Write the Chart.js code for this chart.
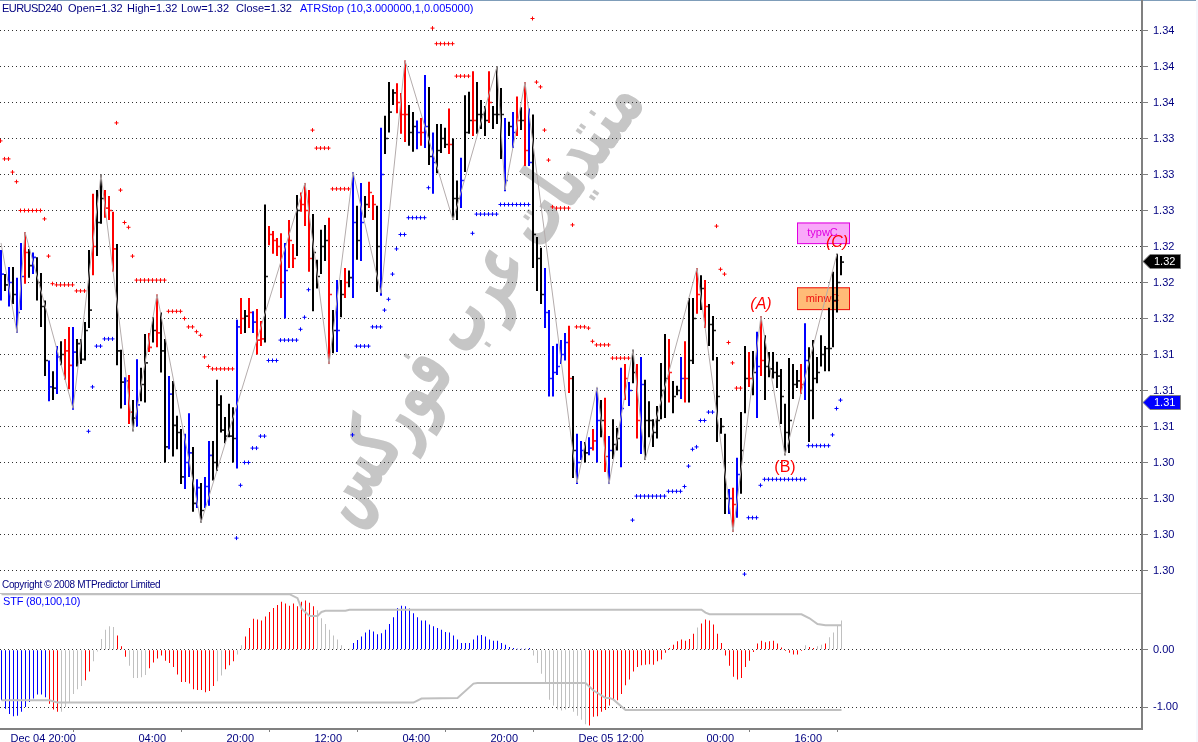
<!DOCTYPE html>
<html>
<head>
<meta charset="utf-8">
<title>EURUSD240</title>
<script src="https://cdn.jsdelivr.net/npm/chart.js@4"></script>
<style>
  html, body { margin: 0; padding: 0; background: #fff; width: 1198px; height: 742px; overflow: hidden; }
  canvas { position: absolute; left: 0; }
  #mainChart { top: 0; }
  #stfChart { top: 593px; }
  .txt { position: absolute; font: 11px "Liberation Sans", sans-serif; white-space: nowrap; line-height: 12px; }
  .navy { color: #000080; }
  .blue { color: #0000ff; }
  #topLine { position: absolute; left: 0; top: 0; width: 1198px; height: 1px; background: #7f9db9; }
  #edgeLine { position: absolute; left: 1196px; top: 0; width: 2px; height: 742px; background: #f5f7fd; }
  #panelLine { position: absolute; left: 0; top: 593px; width: 1142px; height: 1px; background: #c0c0c0; }
  #watermark {
    position: absolute; left: 474px; top: 297px;
    transform: translate(-50%, -50%) rotate(-55deg) scaleX(.58);
    font: bold 84px "DejaVu Sans", sans-serif; color: #c6c6c6; white-space: nowrap; direction: rtl;
  }
</style>
</head>
<body>
<div id="topLine"></div>
<div id="edgeLine"></div>
<div id="watermark">منتديات عرب فوركس</div>
<canvas id="mainChart" width="1198" height="593"></canvas>
<div id="panelLine"></div>
<canvas id="stfChart" width="1198" height="149"></canvas>

<div class="txt navy" style="left:2px;top:2px;letter-spacing:-.55px">EURUSD240</div>
<div class="txt navy" style="left:68px;top:2px">Open=1.32</div>
<div class="txt navy" style="left:127px;top:2px">High=1.32</div>
<div class="txt navy" style="left:181px;top:2px">Low=1.32</div>
<div class="txt navy" style="left:236px;top:2px">Close=1.32</div>
<div class="txt blue" style="left:300px;top:2px">ATRStop (10,3.000000,1,0.005000)</div>
<div class="txt navy" style="left:2px;top:579px;font-size:10px;letter-spacing:-.33px">Copyright © 2008 MTPredictor Limited</div>
<div class="txt blue" style="left:3px;top:595px;letter-spacing:-.2px">STF (80,100,10)</div>

<script>
const barState = ('bkbkbbrkbk' + 'kkbkbkrrbk' + 'kkkrkkrrrk' + 'kbrkbkkrkr' + 'kkbkkkbbkb' +
  'kbbkkkkkkb' + 'rkrbrrkrrr' + 'rbrrkrrrkk' + 'kkrkbkrkbk' + 'bkrrkbkkkr' +
  'rrkkbrbkbk' + 'kkrkkbkkrk' + 'kkrkkkbkbr' + 'krbkkkbbbb' + 'bbrkbbkbrb' +
  'krbkkbrbkr' + 'bkkkkkkrkk' + 'brkkrkrkkk' + 'kkbrbkkrkb' + 'rkkkkkkkkk' + 'rbkkkkkkkkk').split('');

const highs = [
  1.3227,1.3207,1.3213,1.3213,1.3204,1.3233,1.3242,1.3228,1.3225,1.3221,
  1.3208,1.3185,1.3135,1.3126,1.3147,1.3151,1.3153,1.3163,1.3163,1.3153,
  1.3153,1.3167,1.3227,1.3274,1.3277,1.3290,1.3277,1.3272,1.3259,1.3232,
  1.3144,1.3121,1.3123,1.3102,1.3136,1.3129,1.3157,1.3158,1.3171,1.3190,
  1.3175,1.3153,1.3122,1.3118,1.3089,1.3078,1.3074,1.3091,1.3063,1.3036,
  1.3033,1.3038,1.3068,1.3068,1.3119,1.3106,1.3088,1.3099,1.3096,1.3169,
  1.3187,1.3177,1.3187,1.3176,1.3178,1.3168,1.3265,1.3247,1.3243,1.3237,
  1.3241,1.3233,1.3252,1.3232,1.3273,1.3275,1.3283,1.3277,1.3257,1.3219,
  1.3244,1.3248,1.3254,1.3177,1.3202,1.3202,1.3212,1.3210,1.3292,1.3264,
  1.3283,1.3272,1.3284,1.3273,1.3264,1.3329,1.3339,1.3367,1.3361,1.3366,
  1.3358,1.3385,1.3348,1.3342,1.3335,1.3337,1.3373,1.3363,1.3325,1.3332,
  1.3332,1.3329,1.3345,1.3320,1.3285,1.3304,1.3356,1.3359,1.3376,1.3367,
  1.3352,1.3347,1.3376,1.3347,1.3380,1.3362,1.3337,1.3334,1.3342,1.3355,
  1.3346,1.3367,1.3345,1.3340,1.3238,1.3229,1.3212,1.3177,1.3147,1.3149,
  1.3152,1.3158,1.3164,1.3122,1.3074,1.3068,1.3067,1.3071,1.3078,1.3112,
  1.3102,1.3104,1.3072,1.3086,1.3079,1.3129,1.3132,1.3117,1.3144,1.3132,
  1.3138,1.3119,1.3101,1.3086,1.3097,1.3133,1.3157,1.3153,1.3118,1.3114,
  1.3138,1.3151,1.3187,1.3187,1.3212,1.3206,1.3202,1.3182,1.3172,1.3138,
  1.3087,1.3074,1.3028,1.3029,1.3054,1.3092,1.3147,1.3142,1.3143,1.3159,
  1.3172,1.3156,1.3142,1.3142,1.3134,1.3128,1.3099,1.3137,1.3132,1.3127,
  1.3132,1.3166,1.3146,1.3152,1.3138,1.3156,1.3147,1.3179,1.3209,1.3224,1.3222
];
const lows = [
  1.3185,1.3193,1.3180,1.3182,1.3158,1.3177,1.3199,1.3204,1.3207,1.3185,
  1.3163,1.3122,1.3101,1.3102,1.3107,1.3131,1.3119,1.3111,1.3094,1.3130,
  1.3132,1.3135,1.3162,1.3206,1.3222,1.3249,1.3254,1.3252,1.3209,1.3131,
  1.3095,1.3098,1.3082,1.3076,1.3080,1.3101,1.3100,1.3142,1.3150,1.3146,
  1.3125,1.3050,1.3061,1.3055,1.3061,1.3032,1.3028,1.3038,1.3009,1.3012,
  1.3000,1.3012,1.3014,1.3035,1.3043,1.3075,1.3066,1.3071,1.3050,1.3045,
  1.3157,1.3158,1.3162,1.3158,1.3140,1.3147,1.3150,1.3231,1.3224,1.3222,
  1.3187,1.3170,1.3212,1.3212,1.3222,1.3259,1.3247,1.3209,1.3176,1.3195,
  1.3207,1.3218,1.3132,1.3141,1.3142,1.3171,1.3187,1.3196,1.3187,1.3219,
  1.3218,1.3254,1.3262,1.3252,1.3192,1.3189,1.3307,1.3325,1.3348,1.3341,
  1.3324,1.3317,1.3314,1.3309,1.3311,1.3314,1.3312,1.3298,1.3274,1.3291,
  1.3308,1.3312,1.3307,1.3252,1.3252,1.3262,1.3292,1.3324,1.3322,1.3324,
  1.3328,1.3322,1.3333,1.3328,1.3332,1.3303,1.3276,1.3322,1.3312,1.3322,
  1.3327,1.3297,1.3297,1.3212,1.3193,1.3182,1.3162,1.3105,1.3105,1.3123,
  1.3132,1.3135,1.3108,1.3037,1.3032,1.3052,1.3050,1.3056,1.3060,1.3050,
  1.3071,1.3042,1.3032,1.3053,1.3060,1.3046,1.3102,1.3097,1.3116,1.3070,
  1.3057,1.3052,1.3071,1.3063,1.3070,1.3086,1.3087,1.3100,1.3091,1.3106,
  1.3103,1.3100,1.3100,1.3132,1.3174,1.3177,1.3162,1.3147,1.3135,1.3067,
  1.3074,1.3007,1.3007,1.2992,1.3004,1.3024,1.3091,1.3113,1.3106,1.3087,
  1.3122,1.3102,1.3121,1.3120,1.3112,1.3082,1.3056,1.3058,1.3103,1.3112,
  1.3107,1.3102,1.3067,1.3086,1.3116,1.3130,1.3126,1.3126,1.3146,1.3175,1.3206
];
const closes = [
  1.3207,1.3198,1.3200,1.3190,1.3175,1.3205,1.3225,1.3214,1.3221,1.3200,
  1.3180,1.3135,1.3113,1.3112,1.3138,1.3140,1.3143,1.3131,1.3142,1.3149,
  1.3136,1.3160,1.3177,1.3230,1.3250,1.3270,1.3262,1.3260,1.3228,1.3143,
  1.3117,1.3118,1.3092,1.3087,1.3098,1.3115,1.3133,1.3146,1.3160,1.3158,
  1.3143,1.3063,1.3107,1.3081,1.3075,1.3038,1.3050,1.3058,1.3016,1.3029,
  1.3010,1.3030,1.3056,1.3050,1.3098,1.3077,1.3072,1.3072,1.3070,1.3163,
  1.3170,1.3172,1.3175,1.3167,1.3152,1.3153,1.3205,1.3240,1.3235,1.3230,
  1.3200,1.3210,1.3235,1.3220,1.3260,1.3265,1.3260,1.3220,1.3225,1.3205,
  1.3230,1.3235,1.3190,1.3160,1.3160,1.3190,1.3200,1.3204,1.3250,1.3235,
  1.3250,1.3265,1.3275,1.3265,1.3230,1.3290,1.3320,1.3342,1.3358,1.3350,
  1.3340,1.3340,1.3325,1.3330,1.3325,1.3325,1.3330,1.3305,1.3300,1.3310,
  1.3320,1.3315,1.3315,1.3270,1.3270,1.3285,1.3325,1.3335,1.3335,1.3340,
  1.3340,1.3335,1.3350,1.3340,1.3340,1.3340,1.3285,1.3330,1.3325,1.3335,
  1.3335,1.3310,1.3300,1.3240,1.3220,1.3190,1.3175,1.3120,1.3125,1.3130,
  1.3140,1.3150,1.3120,1.3060,1.3050,1.3060,1.3058,1.3062,1.3068,1.3085,
  1.3085,1.3055,1.3060,1.3065,1.3070,1.3095,1.3120,1.3110,1.3125,1.3085,
  1.3115,1.3085,1.3085,1.3075,1.3085,1.3110,1.3120,1.3125,1.3105,1.3110,
  1.3120,1.3120,1.3135,1.3170,1.3190,1.3195,1.3180,1.3165,1.3160,1.3105,
  1.3080,1.3020,1.3020,1.3015,1.3040,1.3060,1.3120,1.3120,1.3125,1.3130,
  1.3135,1.3130,1.3128,1.3125,1.3122,1.3105,1.3075,1.3085,1.3115,1.3118,
  1.3115,1.3135,1.3110,1.3120,1.3125,1.3140,1.3145,1.3145,1.3185,1.3200,1.3217
];
const atrStop = [
  1.3318,1.3303,1.3303,1.3292,1.3284,1.3260,1.3260,1.3260,1.3260,1.3260,
  1.3260,1.3253,1.3222,1.3199,1.3198,1.3198,1.3198,1.3198,1.3198,1.3193,
  1.3193,1.3193,1.3076,1.3113,1.3147,1.3147,1.3153,1.3153,1.3153,1.3333,
  1.3277,1.3250,1.3246,1.3222,1.3202,1.3202,1.3202,1.3202,1.3202,1.3202,
  1.3202,1.3202,1.3176,1.3176,1.3176,1.3176,1.3170,1.3163,1.3163,1.3159,
  1.3156,1.3138,1.3130,1.3128,1.3128,1.3128,1.3128,1.3128,1.3128,1.2987,
  1.3031,1.3050,1.3050,1.3062,1.3062,1.3072,1.3072,1.3135,1.3135,1.3135,
  1.3152,1.3152,1.3152,1.3152,1.3152,1.3161,1.3171,1.3194,1.3327,1.3312,
  1.3312,1.3312,1.3312,1.3278,1.3278,1.3278,1.3278,1.3278,1.3073,1.3147,
  1.3147,1.3147,1.3147,1.3163,1.3163,1.3163,1.3177,1.3186,1.3207,1.3228,
  1.3240,1.3240,1.3254,1.3254,1.3254,1.3254,1.3254,1.3279,1.3412,1.3399,
  1.3399,1.3399,1.3399,1.3399,1.3372,1.3372,1.3372,1.3372,1.3241,1.3257,
  1.3257,1.3257,1.3257,1.3257,1.3257,1.3265,1.3265,1.3265,1.3265,1.3265,
  1.3265,1.3265,1.3265,1.3420,1.3367,1.3363,1.3327,1.3302,1.3263,1.3262,
  1.3262,1.3262,1.3262,1.3248,1.3163,1.3163,1.3163,1.3162,1.3151,1.3148,
  1.3148,1.3148,1.3148,1.3137,1.3137,1.3137,1.3137,1.3137,1.3002,1.3022,
  1.3022,1.3022,1.3022,1.3022,1.3022,1.3022,1.3022,1.3026,1.3026,1.3026,
  1.3026,1.3030,1.3047,1.3061,1.3063,1.3085,1.3085,1.3092,1.3092,1.3247,
  1.3211,1.3207,1.3150,1.3133,1.3112,1.3112,1.2957,1.3004,1.3004,1.3004,
  1.3031,1.3036,1.3036,1.3036,1.3036,1.3036,1.3036,1.3036,1.3036,1.3036,
  1.3036,1.3036,1.3064,1.3064,1.3064,1.3064,1.3064,1.3064,1.3073,1.3095,1.3102
];

// zigzag pivots
const zigBars = [0,4,6,18,25,33,39,50,76,82,88,95,101,113,124,126,131,144,149,152,158,161,174,183,190,196,209];
const zigPrices = [1.3233,1.3158,1.3242,1.3095,1.3290,1.3076,1.3190,1.3000,1.3283,1.3132,1.3292,1.3191,1.3385,1.3252,
  1.3380,1.3277,1.3367,1.3033,1.3113,1.3032,1.3144,1.3052,1.3212,1.2992,1.3172,1.3056,1.3224];

const priceTicks = [1.341,1.338,1.335,1.332,1.329,1.326,1.323,1.320,1.317,1.314,1.311,1.308,1.305,1.302,1.299,1.296];
const priceLabels = ['1.34','1.34','1.34','1.33','1.33','1.33','1.32','1.32','1.32','1.31','1.31','1.31','1.30','1.30','1.30','1.30'];

// STF panel
const stfState = ('bbbbbbbbbb' + 'bbrrrggggg' + 'grrggggggr' + 'rrgggggrrr' + 'rrrrrrrrrr' +
  'rrrrggrrrg' + 'grrrrrrrrr' + 'rrrrrrrrrg' + 'ggggggggbb' + 'bbbbbbbbbb' +
  'bbbbbbbbbb' + 'bbbbbbbbbb' + 'bbbbbbbbbb' + 'bbbggggggg' + 'gggggggrrr' +
  'rrrrrrrrrr' + 'rrrrrrrrrr' + 'rrrrgrrrrr' + 'rrrrrrrrrr' + 'rrrrrrrrrr' + 'rgrrggrgggg').split('');
const stfHist = [
  -0.88,-1.03,-1.12,-1.16,-1.15,-1.08,-1.00,-0.91,-0.85,-0.78,
  -0.78,-0.83,-0.94,-1.04,-1.08,-1.08,-1.00,-0.91,-0.77,-0.69,
  -0.63,-0.53,-0.38,-0.20,-0.03,0.19,0.35,0.41,0.40,0.25,
  0.06,-0.12,-0.28,-0.49,-0.49,-0.48,-0.44,-0.32,-0.22,-0.15,
  -0.10,-0.19,-0.23,-0.30,-0.43,-0.56,-0.56,-0.59,-0.69,-0.70,
  -0.70,-0.74,-0.72,-0.63,-0.55,-0.45,-0.34,-0.27,-0.20,-0.08,
  0.08,0.23,0.38,0.54,0.53,0.51,0.58,0.66,0.73,0.78,
  0.84,0.81,0.77,0.81,0.76,0.84,0.86,0.82,0.76,0.69,
  0.55,0.45,0.35,0.25,0.18,0.08,0.01,0.02,0.12,0.17,
  0.23,0.30,0.35,0.32,0.27,0.29,0.35,0.45,0.57,0.73,
  0.77,0.76,0.72,0.64,0.57,0.51,0.51,0.44,0.41,0.38,
  0.35,0.31,0.30,0.25,0.18,0.12,0.12,0.12,0.18,0.25,
  0.26,0.23,0.18,0.16,0.16,0.12,0.09,0.05,0.03,0.02,
  0.02,0.02,0.03,-0.10,-0.23,-0.42,-0.58,-0.87,-0.97,-1.04,
  -1.06,-1.04,-1.01,-1.08,-1.15,-1.22,-1.30,-1.32,-1.17,-1.16,
  -1.08,-1.05,-0.97,-0.88,-0.88,-0.77,-0.62,-0.52,-0.38,-0.30,
  -0.27,-0.26,-0.25,-0.26,-0.20,-0.17,-0.05,0.03,0.09,0.15,
  0.18,0.16,0.19,0.28,0.39,0.46,0.53,0.51,0.44,0.28,
  0.12,-0.10,-0.28,-0.47,-0.52,-0.49,-0.30,-0.19,-0.04,0.11,
  0.16,0.13,0.15,0.16,0.11,0.04,-0.02,-0.05,-0.08,-0.08,
  -0.02,0.08,0.05,0.03,0.06,0.09,0.11,0.22,0.30,0.42,0.51
];
const upperBars = [0,72,74,75,77,79,80,81,86,87,175,176,177,200,202,204,206,210];
const upperVals = [0.97,0.97,0.90,0.72,0.59,0.59,0.66,0.68,0.68,0.70,0.70,0.65,0.62,0.62,0.55,0.45,0.43,0.43];
const lowerBars = [0,12,14,103,105,114,118,119,146,148,151,152,153,156,210];
const lowerVals = [-0.88,-0.88,-0.92,-0.92,-0.85,-0.84,-0.59,-0.58,-0.58,-0.71,-0.84,-0.84,-0.87,-1.05,-1.05];

const stfTicks = [0, -1];
const stfLabels = ['0.00', '-1.00'];
const timeBars = [2, 34, 56, 78, 100, 122, 144, 176, 198];
const timeLabels = ['Dec 04 20:00','04:00','20:00','12:00','04:00','20:00','Dec 05 12:00','00:00','16:00'];

// annotations on the price panel
const boxes = [
  { text: 'typwC', from: 199, to: 212.25, top: 1.3250, bottom: 1.3232, fill: '#f9a9f9', edge: '#e000e0' },
  { text: 'minwC', from: 199, to: 212.25, top: 1.3196, bottom: 1.3177, fill: '#ffbb77', edge: '#ee1111' }
];
const waveLabels = [
  { text: '(A)', bar: 190, price: 1.3182, italic: true },
  { text: '(B)', bar: 196, price: 1.3046, italic: false },
  { text: '(C)', bar: 209, price: 1.3233, italic: true }
];
const priceTags = [
  { text: '1.32', price: 1.3218, fill: '#000000' },
  { text: '1.31', price: 1.3100, fill: '#0000ff' }
];

const palette = { k: '#000000', b: '#0000ff', r: '#ff0000', g: '#c0c0c0' };
const navy = '#000080';
const axisGrey = '#808080';
const fontSpec = { family: '"Liberation Sans", sans-serif', size: 11 };
const barCoords = highs.map((h, i) => i);

// 4px per bar, first bar at x = 1
const xRange = { min: -0.25, max: 285.25 };
// half a pixel over so the 1px histogram bars land on whole pixels
const stfRange = { min: -0.375, max: 285.125 };

const annotationPlugin = {
  id: 'annotations',
  beforeDatasetsDraw(chart) {
    const { ctx, scales: { x, y } } = chart;
    ctx.save();
    boxes.forEach(b => {
      const left = x.getPixelForValue(b.from), right = x.getPixelForValue(b.to);
      const top = y.getPixelForValue(b.top), bottom = y.getPixelForValue(b.bottom);
      ctx.fillStyle = b.fill;
      ctx.strokeStyle = b.edge;
      ctx.fillRect(left, top, right - left, bottom - top);
      ctx.strokeRect(left + .5, top + .5, right - left - 1, bottom - top - 1);
      ctx.fillStyle = b.edge;
      ctx.font = '11px "Liberation Sans", sans-serif';
      ctx.textAlign = 'center';
      ctx.textBaseline = 'middle';
      ctx.fillText(b.text, (left + right) / 2 - 1, (top + bottom) / 2);
    });
    ctx.restore();
  },
  afterDraw(chart) {
    const { ctx, scales: { x, y } } = chart;
    ctx.save();
    ctx.textBaseline = 'middle';
    waveLabels.forEach(w => {
      ctx.fillStyle = '#ff0000';
      ctx.textAlign = 'center';
      ctx.font = (w.italic ? 'italic ' : '') + '16px "Liberation Sans", sans-serif';
      ctx.fillText(w.text, x.getPixelForValue(w.bar), y.getPixelForValue(w.price));
    });
    priceTags.forEach(t => {
      const cy = Math.round(y.getPixelForValue(t.price)) + .5;
      ctx.beginPath();
      ctx.moveTo(1143, cy);
      ctx.lineTo(1150, cy - 7);
      ctx.lineTo(1180.5, cy - 7);
      ctx.lineTo(1180.5, cy + 7);
      ctx.lineTo(1150, cy + 7);
      ctx.closePath();
      ctx.fillStyle = t.fill;
      ctx.fill();
      ctx.strokeStyle = axisGrey;
      ctx.stroke();
      ctx.fillStyle = '#ffffff';
      ctx.font = '11px "Liberation Sans", sans-serif';
      ctx.textAlign = 'left';
      ctx.fillText(t.text, 1154, cy);
    });
    ctx.restore();
  }
};

function noPadding(s) {
  s.paddingTop = s.paddingBottom = s.paddingLeft = s.paddingRight = 0;
}

function yAxis(min, max, values, labels) {
  return {
    position: 'right',
    min, max,
    afterFit: s => { s.width = 56; noPadding(s); },
    afterBuildTicks: s => { s.ticks = values.map(v => ({ value: v })); },
    border: { color: axisGrey, width: 2, dash: [1, 3] },
    grid: { color: '#303030', tickColor: axisGrey, tickLength: 6, tickBorderDash: [] },
    ticks: {
      autoSkip: false, color: navy, font: fontSpec, padding: 5,
      callback: (v, i) => labels[i]
    }
  };
}

new Chart(document.getElementById('mainChart'), {
  type: 'bar',
  plugins: [annotationPlugin],
  data: {
    datasets: [
      {
        type: 'line',
        data: zigBars.map((b, i) => ({ x: b, y: zigPrices[i] })),
        borderColor: '#b4acac', borderWidth: 1, pointRadius: 0, tension: 0
      },
      {
        type: 'line',
        data: closes.map((c, i) => ({ x: i + 0.5, y: c })),
        showLine: false, pointStyle: 'rect', pointRadius: 1.2, pointBorderWidth: 0,
        pointBackgroundColor: barState.map(s => palette[s])
      },
      {
        type: 'line',
        data: atrStop.map((s, i) => ({ x: i - 0.125, y: s })),
        showLine: false, pointStyle: 'cross', pointRadius: 2, pointBorderWidth: 1,
        pointBorderColor: atrStop.map((s, i) => s > highs[i] ? palette.r : palette.b)
      },
      {
        data: barCoords.map(i => ({ x: i, y: [lows[i], highs[i]] })),
        backgroundColor: barState.map(s => palette[s]),
        maxBarThickness: 2, grouped: false, inflateAmount: 0
      }
    ]
  },
  options: {
    responsive: false,
    animation: false,
    devicePixelRatio: 1,
    layout: { autoPadding: false },
    plugins: { legend: { display: false }, tooltip: { enabled: false } },
    scales: {
      x: { type: 'linear', ...xRange, offset: false, display: false },
      y: yAxis(1.3435 - 592.5 / 12000, 1.3435 + 0.5 / 12000, priceTicks, priceLabels)
    }
  }
});

new Chart(document.getElementById('stfChart'), {
  type: 'bar',
  data: {
    datasets: [
      {
        type: 'line',
        data: upperBars.map((b, i) => ({ x: b, y: upperVals[i] })),
        borderColor: palette.g, borderWidth: 2, pointRadius: 0, tension: 0
      },
      {
        type: 'line',
        data: lowerBars.map((b, i) => ({ x: b, y: lowerVals[i] })),
        borderColor: palette.g, borderWidth: 2, pointRadius: 0, tension: 0
      },
      {
        data: stfHist.map((v, i) => ({ x: i, y: v })),
        backgroundColor: stfState.map(s => palette[s]),
        maxBarThickness: 1, grouped: false, inflateAmount: 0
      }
    ]
  },
  options: {
    responsive: false,
    animation: false,
    devicePixelRatio: 1,
    layout: { autoPadding: false },
    plugins: { legend: { display: false }, tooltip: { enabled: false } },
    scales: {
      x: {
        type: 'linear', ...stfRange, offset: false,
        afterFit: s => { s.height = 13; noPadding(s); },
        afterBuildTicks: s => { s.ticks = timeBars.map(v => ({ value: v })); },
        border: { color: axisGrey, width: 2 },
        grid: { drawOnChartArea: false, tickColor: axisGrey, tickLength: 3 },
        ticks: {
          autoSkip: false, maxRotation: 0, color: navy, font: fontSpec, padding: 0,
          align: 'start', labelOffset: 1,
          callback: (v, i) => timeLabels[i]
        }
      },
      y: yAxis(-1.382, 0.9912, stfTicks, stfLabels)
    }
  }
});
</script>
</body>
</html>
